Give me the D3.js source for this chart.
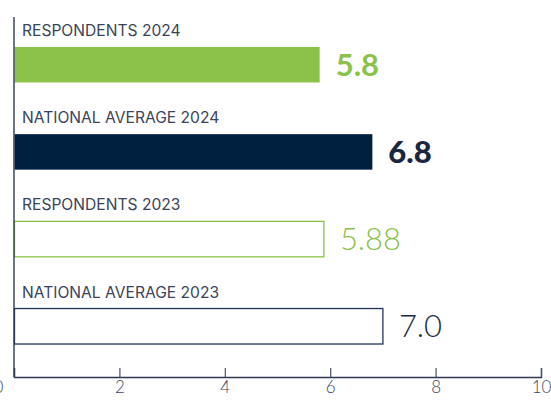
<!DOCTYPE html>
<html>
<head>
<meta charset="utf-8">
<script src="https://cdn.jsdelivr.net/npm/d3@7"></script>
<style>
  html, body { margin: 0; padding: 0; background: #fff; overflow: hidden; }
  svg { display: block; font-family: Lato, "Open Sans", sans-serif; }
</style>
</head>
<body>
<svg id="chart" width="551" height="403"></svg>
<script>
// Scores by group, with the year each group refers to
const categories = ["RESPONDENTS 2024", "NATIONAL AVERAGE 2024", "RESPONDENTS 2023", "NATIONAL AVERAGE 2023"];
const values = [5.8, 6.8, 5.88, 7.0];
const valueLabels = ["5.8", "6.8", "5.88", "7.0"];
const tickValues = [0, 2, 4, 6, 8, 10];

// Per-bar style: 2024 bars are solid, 2023 bars are outlined
const fills = ["#8bc34a", "#00203f", "#ffffff", "#ffffff"];
const strokes = ["none", "none", "#8bc34a", "#1f3559"];
const labelColors = ["#8bc34a", "#1b2640", "#8bc34a", "#1f2a45"];
const labelWeights = [700, 900, 300, 300];

const svg = d3.select("#chart");
const x0 = 14, x1 = 541, axisY = 377, topY = 17;

const x = d3.scaleLinear().domain([0, 10]).range([x0, x1]);
const y = d3.scaleBand().domain(categories).range([topY, 374])
  .paddingInner(0.593).paddingOuter(0.344);

// Bars
svg.selectAll("rect.bar").data(categories).join("rect")
  .attr("class", "bar")
  .attr("x", x(0) + 0.5)
  .attr("y", d => y(d))
  .attr("width", (d, i) => x(values[i]) - x(0) - 0.5)
  .attr("height", y.bandwidth())
  .attr("fill", (d, i) => fills[i])
  .attr("stroke", (d, i) => strokes[i])
  .attr("stroke-width", 1.3);

// Category labels above each bar
svg.selectAll("text.cat").data(categories).join("text")
  .attr("class", "cat")
  .attr("x", x(0) + 8)
  .attr("y", d => y(d) - 11)
  .attr("fill", "#3b4459")
  .attr("font-family", "Inter, sans-serif")
  .attr("font-size", 15.6)
  .attr("letter-spacing", 0)
  .text(d => d);

// Value labels at the bar ends
svg.selectAll("text.val").data(categories).join("text")
  .attr("class", "val")
  .attr("x", (d, i) => x(values[i]) + 16)
  .attr("y", d => y(d) + y.bandwidth() / 2)
  .attr("dy", "0.36em")
  .attr("fill", (d, i) => labelColors[i])
  .attr("font-weight", (d, i) => labelWeights[i])
  .attr("font-size", 31)
  .text((d, i) => valueLabels[i]);

// Value axis with ticks pointing up into the plot
const xAxis = d3.axisBottom(x).tickValues(tickValues).tickSize(-9).tickPadding(4)
  .tickFormat(d3.format("d"));
const gx = svg.append("g").attr("transform", `translate(0,${axisY})`).call(xAxis);
gx.select(".domain").attr("stroke", "#2e3a52").attr("stroke-width", 1.4);
gx.selectAll(".tick line").attr("stroke", "#4a5366").attr("stroke-width", 1.2);
gx.selectAll(".tick text")
  .attr("font-size", 17).attr("font-weight", 300).attr("fill", "#3a4868")
  .attr("font-family", "Lato, sans-serif")
  .attr("dy", "0.71em");
gx.selectAll(".tick").filter(d => d === 0).select("text").attr("x", -16);

// Vertical baseline at zero
svg.append("line")
  .attr("x1", x(0)).attr("x2", x(0))
  .attr("y1", topY).attr("y2", axisY)
  .attr("stroke", "#2e3a52").attr("stroke-width", 1.4);
</script>
</body>
</html>
